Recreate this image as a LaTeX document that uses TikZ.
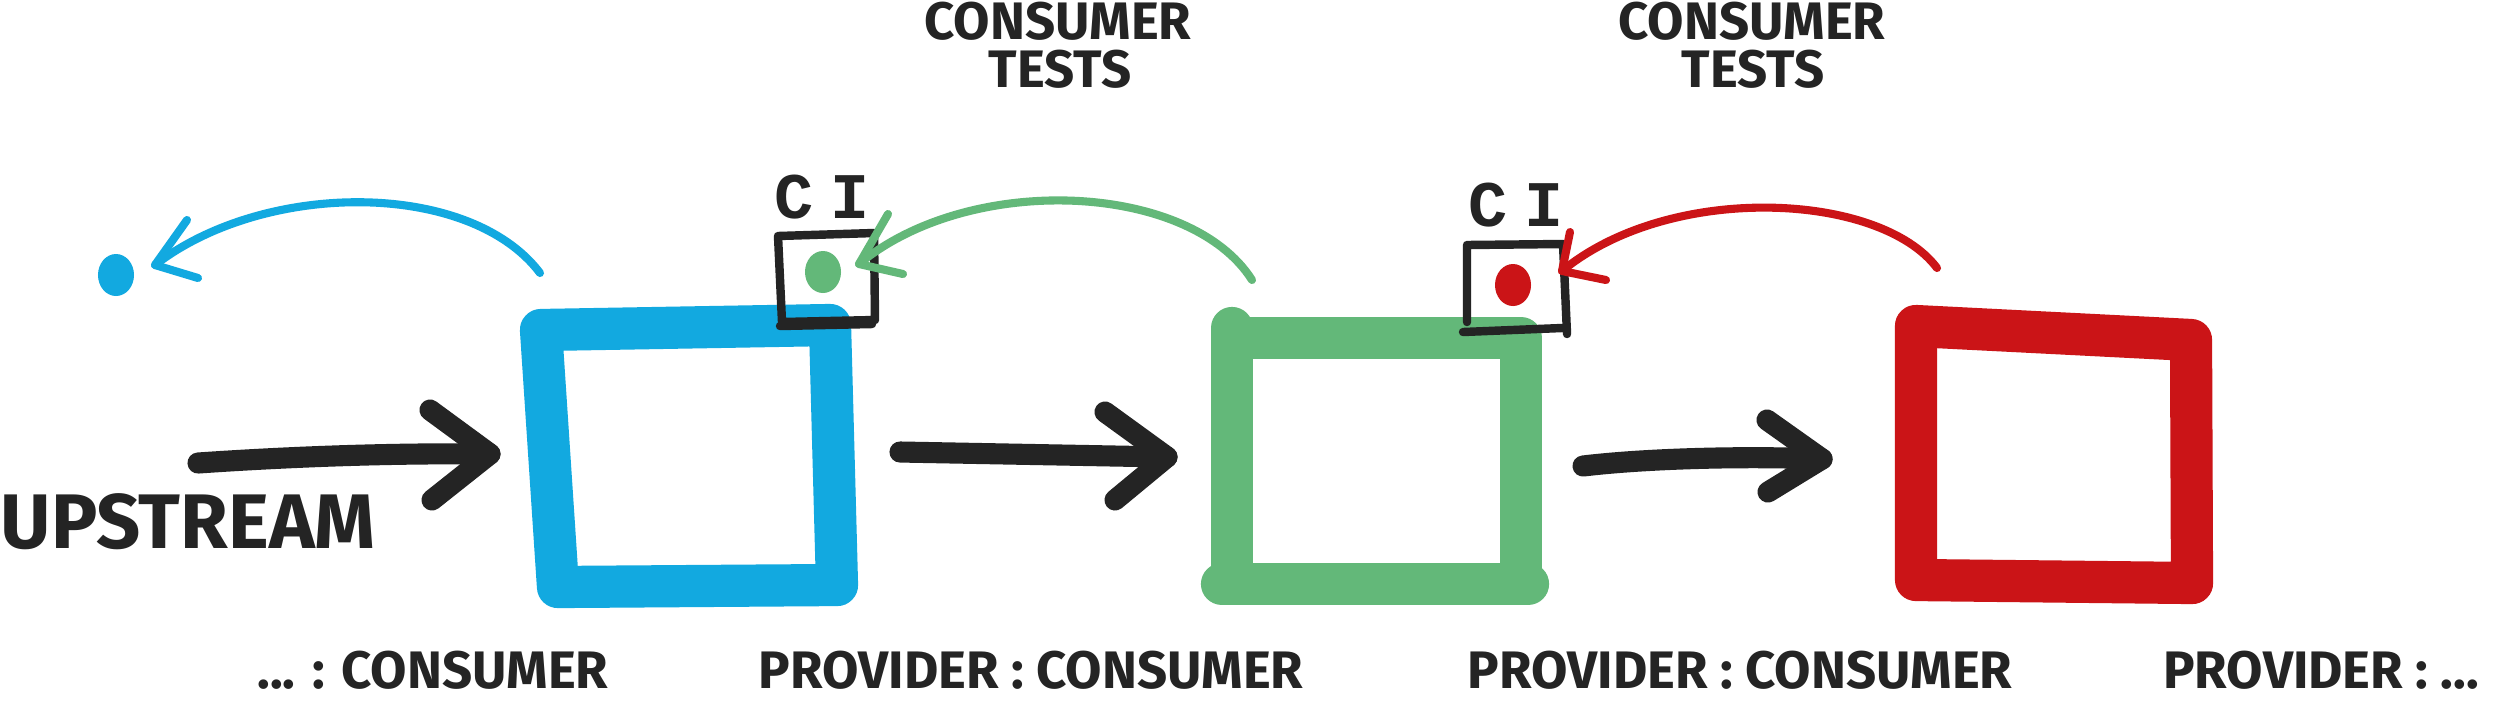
\documentclass[tikz,border=0pt]{standalone}
\usepackage{fontspec}
\setmainfont{Fira Sans}
\newfontfamily\cifont{Liberation Mono}
\definecolor{cblue}{HTML}{12A9E0}
\definecolor{cgreen}{HTML}{63B879}
\definecolor{cred}{HTML}{CB1417}
\definecolor{ink}{HTML}{242424}
\tikzset{
  boxline/.style={line width=12pt, line cap=round, line join=round},
  arcline/.style={line width=2.3pt, line cap=round, line join=round},
  flow/.style={draw=ink, line width=6pt, line cap=round, line join=round},
  cibox/.style={draw=ink, line width=2.4pt, line cap=round, line join=round},
  lbl/.style={font=\bfseries\fontsize{15}{18}\selectfont, text=ink, inner sep=0pt},
  uplbl/.style={font=\bfseries\fontsize{22}{25}\selectfont, text=ink, inner sep=0pt},
  cilbl/.style={font=\cifont\bfseries\fontsize{18.5}{21}\selectfont, text=ink, inner sep=0pt},
}
\begin{document}
\begin{tikzpicture}[x=0.01cm, y=-0.01cm]
\fill[white] (0,0) rectangle (2497,702);
\useasboundingbox (0,0) rectangle (2497,702);

% ---------- boxes ----------
\coordinate (bTL) at (541,330); \coordinate (bTR) at (830,325);
\coordinate (bBR) at (837,585); \coordinate (bBL) at (558,587);
\draw[boxline, cblue] (bTL) -- (bTR) -- (bBR) -- (bBL) -- cycle;

\coordinate (gTL) at (1232,338); \coordinate (gTR) at (1521,338);
\coordinate (gBR) at (1521,584); \coordinate (gBL) at (1232,584);
\draw[boxline, cgreen] (gTL) -- (gTR) -- (gBR) -- (gBL) -- cycle;
\draw[boxline, cgreen] (1222,584) -- (1528,584);
\draw[boxline, cgreen] (1232,328) -- (1232,345);

\coordinate (rTL) at (1916,326); \coordinate (rTR) at (2191,340);
\coordinate (rBR) at (2192,583); \coordinate (rBL) at (1916,580);
\draw[boxline, cred] (rTL) -- (rTR) -- (rBR) -- (rBL) -- cycle;

% ---------- CI boxes ----------
\coordinate (c1TL) at (778,236); \coordinate (c1TR) at (874,233);
\coordinate (c1BR) at (875,320); \coordinate (c1BL) at (782,322);
\draw[cibox] (c1TL) -- (c1TR) -- (c1BR) -- (c1BL) -- cycle;
\draw[cibox] (780,326) -- (872,324);

\coordinate (c2TL) at (1467,245); \coordinate (c2TR) at (1563,244);
\coordinate (c2BR) at (1567,334); \coordinate (c2BL) at (1463,332);
\draw[cibox] (1467,322) -- (c2TL) -- (c2TR) -- (c2BR);
\draw[cibox] (c2BL) -- (1562,328);

% ---------- dots ----------
\coordinate (bdot) at (116,275);
\coordinate (gdot) at (823,272);
\coordinate (rdot) at (1513,285);
\fill[cblue] (bdot) ellipse [x radius=0.18cm, y radius=0.21cm];
\fill[cgreen] (gdot) ellipse [x radius=0.18cm, y radius=0.21cm];
\fill[cred] (rdot) ellipse [x radius=0.18cm, y radius=0.21cm];

% ---------- feedback arcs ----------
\coordinate (bArcS) at (540,273); \coordinate (bTip) at (155,265);
\draw[arcline, cblue] (bArcS) .. controls (470,180) and (265,180) .. (bTip);
\draw[arcline, cblue] (187,220) -- (bTip) -- (198,278);

\coordinate (gArcS) at (1252,280); \coordinate (gTip) at (859,264);
\draw[arcline, cgreen] (gArcS) .. controls (1190,182) and (970,172) .. (gTip);
\draw[arcline, cgreen] (888,214) -- (gTip) -- (903,274);

\coordinate (rArcS) at (1937,268); \coordinate (rTip) at (1562,271);
\draw[arcline, cred] (rArcS) .. controls (1880,192) and (1670,182) .. (rTip);
\draw[arcline, cred] (1570,232) -- (rTip) -- (1606,280);

% ---------- flow arrows ----------
\coordinate (a1S) at (198,463); \coordinate (a1T) at (490,454);
\draw[flow] (a1S) .. controls (300,456) and (400,453) .. (a1T);
\draw[flow] (430,410) -- (a1T) -- (432,500);

\coordinate (a2S) at (900,452); \coordinate (a2T) at (1167,457);
\draw[flow] (a2S) -- (a2T);
\draw[flow] (1105,412) -- (a2T) -- (1115,500);

\coordinate (a3S) at (1583,466); \coordinate (a3T) at (1822,459);
\draw[flow] (a3S) .. controls (1650,458) and (1750,456) .. (a3T);
\draw[flow] (1767,420) -- (a3T) -- (1768,492);

% ---------- texts ----------
\node[uplbl, anchor=base west] (up) at (0,548) {UPSTREAM};

\node[lbl, anchor=base] (ct1a) at (1058,39) {CONSUMER};
\node[lbl, anchor=base] (ct1b) at (1060,87) {TESTS};
\node[lbl, anchor=base] (ct2a) at (1752,39) {CONSUMER};
\node[lbl, anchor=base] (ct2b) at (1753,87) {TESTS};

\node[cilbl, anchor=base] (ci1) at (822,218) {C\kern5pt I};
\node[cilbl, anchor=base] (ci2) at (1516,226) {C\kern5pt I};

\node[lbl, anchor=base] (lab0) at (433,688) {... : CONSUMER};
\node[lbl, anchor=base] (lab1) at (1031,688) {PROVIDER : CONSUMER};
\node[lbl, anchor=base] (lab2) at (1740,688) {PROVIDER : CONSUMER};
\node[lbl, anchor=base] (lab3) at (2321,688) {PROVIDER : ...};
\end{tikzpicture}
\end{document}
